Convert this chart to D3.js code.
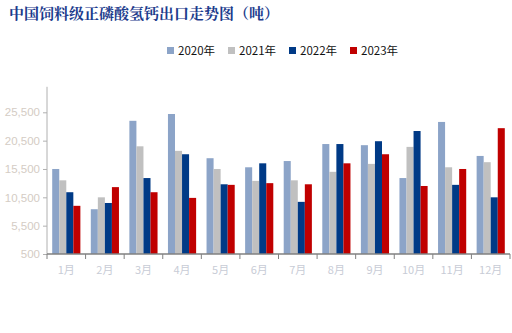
<!DOCTYPE html>
<html><head><meta charset="utf-8">
<script src="https://cdn.jsdelivr.net/npm/d3@7"></script>
<style>body{margin:0;background:#fff;}svg{display:block;}</style>
</head><body>
<svg id="c" width="512" height="333"></svg>
<script>
const months = ["1月","2月","3月","4月","5月","6月","7月","8月","9月","10月","11月","12月"];
const seriesNames = ["2020年","2021年","2022年","2023年"];
const colors = ["#8ca4c8","#c0c0c0","#003a86","#c00000"];
const v2020 = [15500,8400,24000,25200,17400,15800,16900,19900,19700,13900,23800,17800];
const v2021 = [13500,10500,19500,18700,15500,13400,13500,15000,16400,19400,15800,16700];
const v2022 = [11400,9500,13900,18100,12800,16500,9700,19900,20400,22200,12700,10500];
const v2023 = [9000,12300,11400,10400,12700,13000,12800,16500,18100,12500,15500,22700];
const yTicks = [500,5500,10500,15500,20500,25500];
const values = [v2020,v2021,v2022,v2023];

const svg = d3.select("#c");
const left = 47, right = 510, bottom = 254;
const y = d3.scaleLinear().domain([500,30000]).range([bottom, 86.8]);
const x = d3.scaleBand().domain(months).range([left,right]).paddingInner(0.27).paddingOuter(0.135);
const xs = d3.scaleBand().domain(seriesNames).range([0,x.bandwidth()]);

// title
svg.append("text").attr("x",9).attr("y",19)
  .attr("font-family","'Noto Serif CJK SC','Noto Sans CJK SC',serif").attr("font-weight","bold")
  .attr("font-size",15).attr("fill","#1b3b8c").text("中国饲料级正磷酸氢钙出口走势图（吨）");

// legend
const lg = svg.append("g");
seriesNames.forEach((s,i)=>{
  const gx = 167 + i*61;
  lg.append("rect").attr("x",gx).attr("y",47).attr("width",7).attr("height",7).attr("fill",colors[i]);
  lg.append("text").attr("x",gx+11).attr("y",55).attr("font-family","'Noto Sans CJK SC',sans-serif")
    .attr("font-size",11.5).attr("fill","#111").text(s);
});

// bars
const g = svg.append("g");
months.forEach((m,mi)=>{
  seriesNames.forEach((s,si)=>{
    const v = values[si][mi];
    g.append("rect").attr("x",x(m)+xs(s)).attr("width",xs.bandwidth())
      .attr("y",y(v)).attr("height",bottom-y(v)).attr("fill",colors[si]);
  });
});

// y axis
const ya = svg.append("g").attr("transform",`translate(${left},0)`)
  .call(d3.axisLeft(y).tickValues(yTicks).tickSize(4).tickPadding(3).tickFormat(d3.format(",")));
ya.select(".domain").attr("stroke","#b0b0b0").attr("d",`M0,${y.range()[1]}V${bottom}`);
ya.selectAll(".tick line").attr("stroke","#b0b0b0");
ya.selectAll(".tick text").attr("fill","#d4ccc4").attr("font-size",11.5)
  .attr("font-family","'Liberation Sans',Arial,sans-serif");

// x axis
const xa = svg.append("g").attr("transform",`translate(0,${bottom})`);
xa.append("line").attr("x1",left).attr("x2",right).attr("y1",0).attr("y2",0).attr("stroke","#808080").attr("stroke-width",1.5);
const step = (right-left)/months.length;
d3.range(months.length+1).forEach(i=>{
  xa.append("line").attr("x1",left+i*step).attr("x2",left+i*step).attr("y1",0).attr("y2",5).attr("stroke","#808080");
});
months.forEach(m=>{
  xa.append("text").attr("x",x(m)+x.bandwidth()/2).attr("y",20).attr("text-anchor","middle")
    .attr("font-family","'Noto Sans CJK SC',sans-serif").attr("font-size",11)
    .attr("fill","#c8ccd6").text(m);
});
</script>
</body></html>
